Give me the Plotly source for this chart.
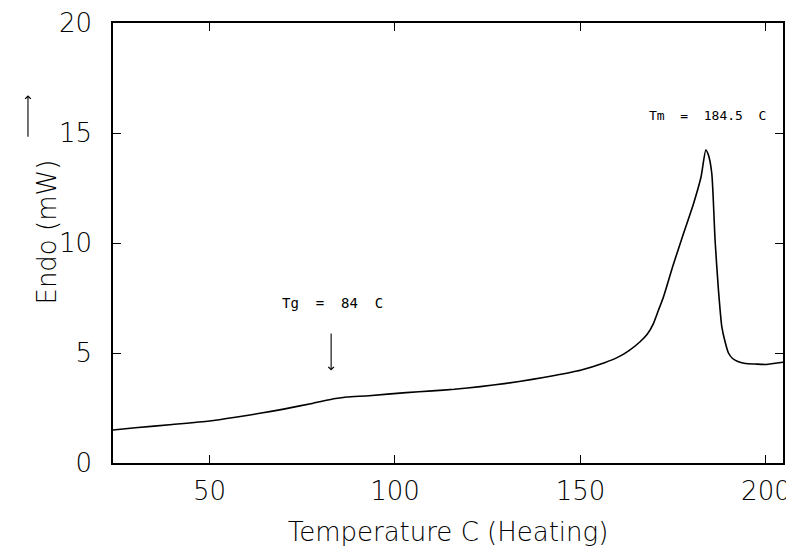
import plotly.graph_objects as go

# DSC heating curve
temperature = [24, 30, 40, 50, 57, 64, 70, 78, 84, 87, 93, 103, 110, 116, 123, 130, 137, 143,
               150, 156.5, 160, 163, 166, 168, 169.7, 171, 172.4, 175, 177.8, 180.5, 182.5, 183.8,
               184.5, 185.4, 186.3, 187.2, 188.1, 189.0, 189.9, 191.0, 192.6, 194.5, 197,
               200, 202, 204.6]
endo_mw = [1.5, 1.6, 1.75, 1.91, 2.08, 2.27, 2.45, 2.72, 2.93, 3.0, 3.06, 3.2, 3.28, 3.35,
           3.47, 3.62, 3.8, 3.98, 4.22, 4.56, 4.8, 5.1, 5.5, 5.85, 6.35, 6.93, 7.56, 9.0, 10.44,
           11.8, 13.0, 14.23, 14.0, 13.17, 10.1, 7.86, 6.2, 5.5, 5.0, 4.75, 4.6, 4.52, 4.5,
           4.48, 4.52, 4.58]

x_ticks = [50, 100, 150, 200]
y_ticks = [0, 5, 10, 15, 20]
x_range = [24, 204.6]
y_range = [0, 20]

FONT = "DejaVu Sans"
MONO = "DejaVu Sans Mono"
INK = "#000000"
big = dict(family=FONT, size=26, color=INK, weight=200)

fig = go.Figure()
fig.add_trace(go.Scatter(x=temperature, y=endo_mw, mode="lines",
                         line=dict(color="black", width=1.6, shape="spline", smoothing=0.6),
                         showlegend=False, hoverinfo="skip"))

axis_common = dict(showgrid=False, zeroline=False, showline=True, linecolor="black",
                   linewidth=1.5, mirror="allticks", ticks="inside", ticklen=8,
                   tickwidth=1.2, tickcolor="black", automargin=False, tickfont=big)

fig.update_xaxes(range=x_range, tickvals=x_ticks, ticklabelstandoff=4,
                 title=dict(text="Temperature C (Heating)", standoff=18, font=big),
                 **axis_common)
fig.update_yaxes(range=y_range, tickvals=y_ticks, ticklabelstandoff=14, **axis_common)

# y-axis title and its upward arrow
fig.add_annotation(xref="paper", yref="paper", x=-0.1239, y=0.526, showarrow=False,
                   text="Endo (mW)", textangle=-90, font=big)
fig.add_annotation(xref="paper", yref="paper", x=-0.1269, y=0.836, ax=0, ay=43,
                   showarrow=True, arrowhead=4, arrowsize=1, arrowwidth=1.1,
                   arrowcolor="black", text="")

# Tg annotation and arrow
fig.add_annotation(x=83.1, y=7.27, xref="x", yref="y", showarrow=False,
                   text="Tg  =  84  C", font=dict(family=MONO, size=14, color="black"))
fig.add_annotation(x=82.8, y=4.2, ax=82.8, ay=5.95, xref="x", yref="y",
                   axref="x", ayref="y", showarrow=True, arrowhead=4,
                   arrowsize=1, arrowwidth=1.1, arrowcolor="black", text="")

# Tm annotation
fig.add_annotation(x=200.5, y=15.8, xref="x", yref="y", xanchor="right", showarrow=False,
                   text="Tm  =  184.5  C", font=dict(family=MONO, size=13, color="black"))

# page body has an 8px margin, so the figure is 8px smaller than the window
fig.update_layout(width=786, height=543, paper_bgcolor="white", plot_bgcolor="white",
                  margin=dict(l=105, r=11, t=15, b=88, autoexpand=False))

fig.write_html("out.html")
